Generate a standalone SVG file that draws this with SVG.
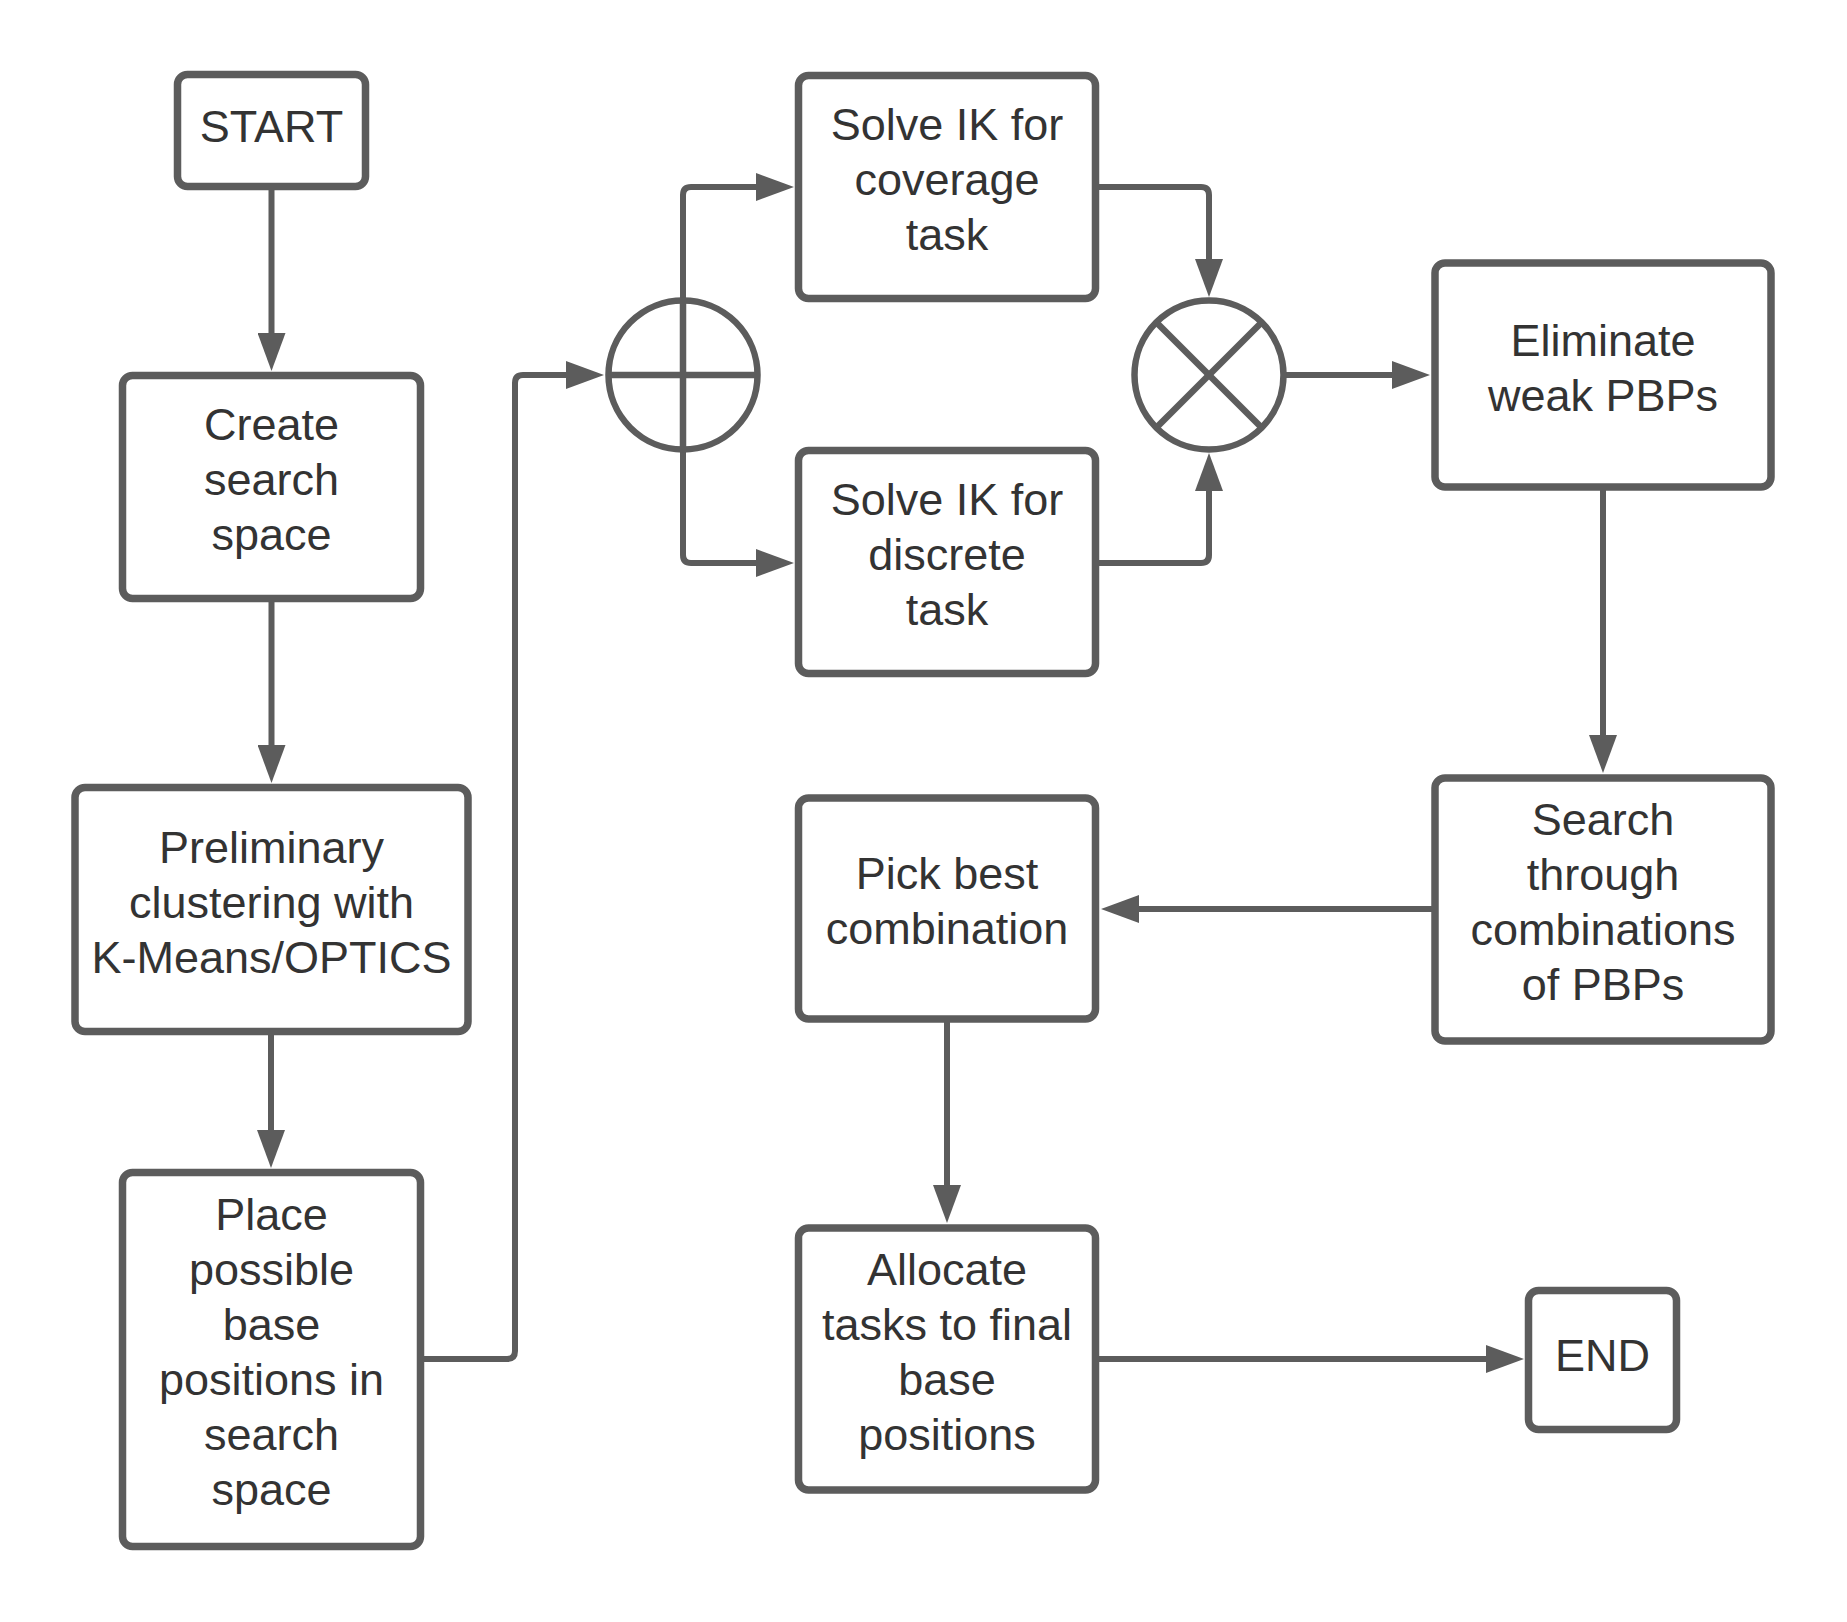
<svg xmlns="http://www.w3.org/2000/svg" width="1847" height="1622" viewBox="0 0 1847 1622">
<style>
.box{fill:#ffffff;stroke:#5c5c5c;stroke-width:7.5}
.ln{fill:none;stroke:#5c5c5c;stroke-width:6.5}
.con{fill:none;stroke:#5c5c5c;stroke-width:6}
text{font-family:"Liberation Sans",Arial,sans-serif;font-size:45px;fill:#333333;text-anchor:middle}
</style>
<defs>
<marker id="ah" markerUnits="userSpaceOnUse" markerWidth="38" markerHeight="28" viewBox="0 0 38 28" refX="2" refY="14" orient="auto">
<path d="M0,0 L38,14 L0,28 z" fill="#5c5c5c"/>
</marker>
</defs>
<rect width="1847" height="1622" fill="#ffffff"/>
<g id="connectors">
<path class="con" d="M271.5 189 V335" marker-end="url(#ah)"/>
<path class="con" d="M271.5 602 V747" marker-end="url(#ah)"/>
<path class="con" d="M271 1035 V1132" marker-end="url(#ah)"/>
<path class="con" d="M424 1359 H507 Q515 1359 515 1351 V383 Q515 375 523 375 H568" marker-end="url(#ah)"/>
<path class="con" d="M683 301 V195 Q683 187 691 187 H758" marker-end="url(#ah)"/>
<path class="con" d="M683 449 V555 Q683 563 691 563 H758" marker-end="url(#ah)"/>
<path class="con" d="M1099 187 H1201 Q1209 187 1209 195 V261" marker-end="url(#ah)"/>
<path class="con" d="M1099 563 H1201 Q1209 563 1209 555 V489" marker-end="url(#ah)"/>
<path class="con" d="M1283 375 H1394" marker-end="url(#ah)"/>
<path class="con" d="M1603 490 V737" marker-end="url(#ah)"/>
<path class="con" d="M1432 909 H1137" marker-end="url(#ah)"/>
<path class="con" d="M947 1022 V1187" marker-end="url(#ah)"/>
<path class="con" d="M1099 1359 H1488" marker-end="url(#ah)"/>
</g>
<g id="start">
<rect class="box" x="177.5" y="74.5" width="188" height="112" rx="10"/>
<text x="271.5" y="142">START</text>
</g>
<g id="create">
<rect class="box" x="122.5" y="375.5" width="298" height="223" rx="10"/>
<text x="271.5" y="440">Create</text>
<text x="271.5" y="495">search</text>
<text x="271.5" y="550">space</text>
</g>
<g id="prelim">
<rect class="box" x="75" y="787.5" width="393" height="244" rx="10"/>
<text x="271.5" y="862.5">Preliminary</text>
<text x="271.5" y="917.5">clustering with</text>
<text x="271.5" y="972.5">K-Means/OPTICS</text>
</g>
<g id="place">
<rect class="box" x="122.5" y="1172.5" width="298" height="374" rx="10"/>
<text x="271.5" y="1230">Place</text>
<text x="271.5" y="1285">possible</text>
<text x="271.5" y="1340">base</text>
<text x="271.5" y="1395">positions in</text>
<text x="271.5" y="1450">search</text>
<text x="271.5" y="1505">space</text>
</g>
<g id="or">
<circle class="ln" cx="683" cy="375" r="74.5" fill="#ffffff"/>
<line class="ln" x1="609" y1="375" x2="757" y2="375"/>
<line class="ln" x1="683" y1="301" x2="683" y2="449"/>
</g>
<g id="coverage">
<rect class="box" x="798.5" y="75.5" width="297" height="223" rx="10"/>
<text x="947" y="139.5">Solve IK for</text>
<text x="947" y="194.5">coverage</text>
<text x="947" y="249.5">task</text>
</g>
<g id="discrete">
<rect class="box" x="798.5" y="450.5" width="297" height="223" rx="10"/>
<text x="947" y="514.5">Solve IK for</text>
<text x="947" y="569.5">discrete</text>
<text x="947" y="624.5">task</text>
</g>
<g id="and">
<circle class="ln" cx="1209" cy="375" r="74.5" fill="#ffffff"/>
<line class="ln" x1="1157" y1="323" x2="1261" y2="427"/>
<line class="ln" x1="1157" y1="427" x2="1261" y2="323"/>
</g>
<g id="eliminate">
<rect class="box" x="1435" y="263" width="336" height="224" rx="10"/>
<text x="1603" y="355.5">Eliminate</text>
<text x="1603" y="410.5">weak PBPs</text>
</g>
<g id="search">
<rect class="box" x="1435" y="778" width="336" height="263" rx="10"/>
<text x="1603" y="835">Search</text>
<text x="1603" y="890">through</text>
<text x="1603" y="945">combinations</text>
<text x="1603" y="1000">of PBPs</text>
</g>
<g id="pick">
<rect class="box" x="798.5" y="798" width="297" height="221" rx="10"/>
<text x="947" y="889">Pick best</text>
<text x="947" y="944">combination</text>
</g>
<g id="allocate">
<rect class="box" x="798.5" y="1228" width="297" height="262" rx="10"/>
<text x="947" y="1284.5">Allocate</text>
<text x="947" y="1339.5">tasks to final</text>
<text x="947" y="1394.5">base</text>
<text x="947" y="1449.5">positions</text>
</g>
<g id="end">
<rect class="box" x="1528.5" y="1290.5" width="148" height="139" rx="10"/>
<text x="1602.5" y="1371">END</text>
</g>
</svg>
